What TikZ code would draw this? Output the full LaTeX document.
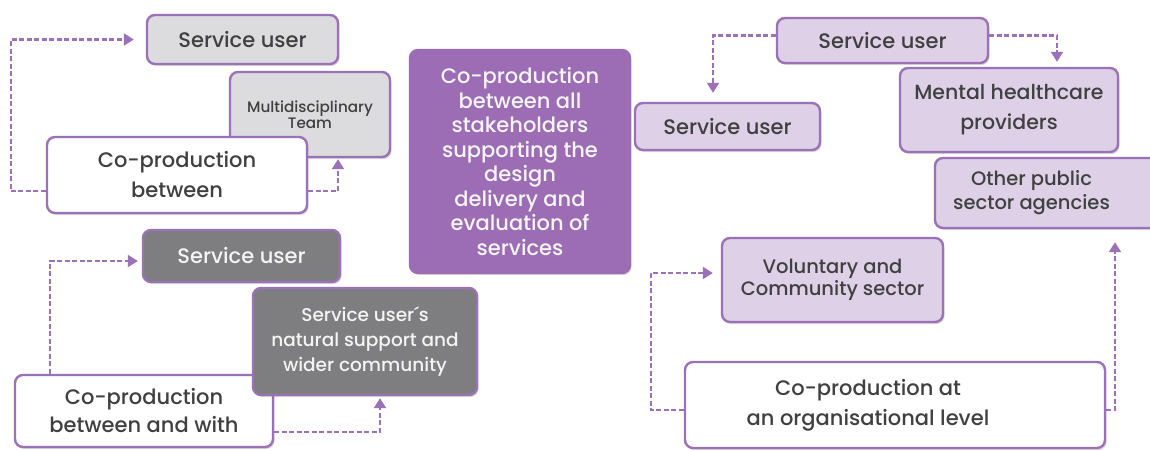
\documentclass[tikz,border=0pt]{standalone}
\usepackage{fontspec}
\setmainfont{Poppins}[UprightFont={* Medium}]
\usetikzlibrary{arrows.meta,shadows}
\definecolor{pborder}{HTML}{9B72B7}
\definecolor{pcenter}{HTML}{9C6DB4}
\definecolor{plight}{HTML}{DDD0E7}
\definecolor{glight}{HTML}{DCDCDE}
\definecolor{gdark}{HTML}{7E7E80}
\definecolor{tdark}{HTML}{404040}
\definecolor{tlight}{HTML}{F4F4F4}
\begin{document}
\begin{tikzpicture}[x=1pt,y=-1pt,
  box/.style={draw=pborder, line width=2.4pt, rounded corners=8pt, inner sep=0pt, align=center,
    drop shadow={shadow xshift=1.5pt,shadow yshift=-2pt,opacity=0.3}},
  big/.style={font=\fontsize{21}{30}\selectfont},
  mid/.style={font=\fontsize{18.5}{25}\selectfont},
  small/.style={font=\fontsize{15.2}{16.5}\selectfont},
  lg/.style={box, fill=glight, text=tdark},
  dg/.style={box, fill=gdark, text=tlight},
  lp/.style={box, fill=plight, text=tdark},
  wb/.style={box, fill=white, text=tdark},
  arr/.style={draw=pborder, line width=2.2pt, dash pattern=on 5pt off 2.5pt,
    -{Triangle[width=12pt,length=10pt]}}]
\useasboundingbox (0,0) rectangle (1150,450);
\fill[white] (0,0) rectangle (1150,450);
% top-left group
\node[lg, big, minimum width=191pt, minimum height=49pt] (su1) at (242.5,39.5) {Service user};
\node[lg, small, minimum width=160pt, minimum height=85pt] (mdt) at (310,114.5) {Multidisciplinary\\Team};
\node[wb, big, minimum width=260pt, minimum height=76pt] (cpb) at (177,175) {Co-production\\between};
% bottom-left group
\node[dg, big, minimum width=197pt, minimum height=52pt] (su2) at (241.5,256) {Service user};
\node[wb, big, font=\fontsize{21}{28}\selectfont, minimum width=258pt, minimum height=72pt] (cpbw) at (144,411) {Co-production\\between and with};
\node[dg, mid, minimum width=224pt, minimum height=107pt] (nat) at (365,341.5) {Service user´s\\natural support and\\wider community};
% centre
\node[box, draw=pcenter, fill=pcenter, text=tlight, font=\fontsize{21}{24.5}\selectfont, minimum width=220pt, minimum height=223pt] (ctr) at (520,161.5) {Co-production\\between all\\stakeholders\\supporting the\\design\\delivery and\\evaluation of\\services};
% right group
\node[lp, big, minimum width=211pt, minimum height=45pt] (su3) at (882.5,40.5) {Service user};
\node[lp, big, minimum width=185pt, minimum height=47pt] (su4) at (727.5,126.5) {Service user};
\node[lp, font=\fontsize{20.5}{30}\selectfont, minimum width=218pt, minimum height=84pt] (mhp) at (1009,110) {Mental healthcare\\providers};
\node[lp, font=\fontsize{19.5}{24}\selectfont, minimum width=223pt, minimum height=70pt] (opa) at (1046.5,193) {Other public\hspace*{30pt}\\sector agencies\hspace*{30pt}};
\node[lp, font=\fontsize{19.5}{22}\selectfont, minimum width=221pt, minimum height=84pt] (vcs) at (832.5,280) {Voluntary and\\Community sector};
\node[wb, big, minimum width=420pt, minimum height=86pt] (cpo) at (895,405) {Co-production at\hspace*{54pt}\\an organisational level\hspace*{54pt}};
% connectors
\draw[arr, shorten >=12pt] ([yshift=-16pt]cpb.west) -- ++(-35,0) |- (su1.west);
\draw[arr, shorten >=1pt] ([yshift=-16pt]cpb.east) -| ([xshift=28pt]mdt.south);
\draw[arr, shorten >=4pt] ([xshift=-94pt]cpbw.north) |- ([yshift=-5pt]su2.west);
\draw[arr, shorten >=2pt] ([yshift=-21pt]cpbw.east) -| ([xshift=15pt]nat.south);
\draw[arr, shorten >=9pt] ([yshift=5pt]su3.west) -| ([xshift=-14.5pt]su4.north);
\draw[arr, shorten >=5pt] ([yshift=5pt]su3.east) -| ([xshift=48pt]mhp.north);
\draw[arr, shorten >=8pt] ([yshift=-5pt]cpo.west) -- ++(-33,0) |- ([yshift=7pt]vcs.west);
\draw[arr, shorten >=13pt] ([yshift=-5pt]cpo.east) -| ([xshift=68.5pt]opa.south);
\end{tikzpicture}
\end{document}
